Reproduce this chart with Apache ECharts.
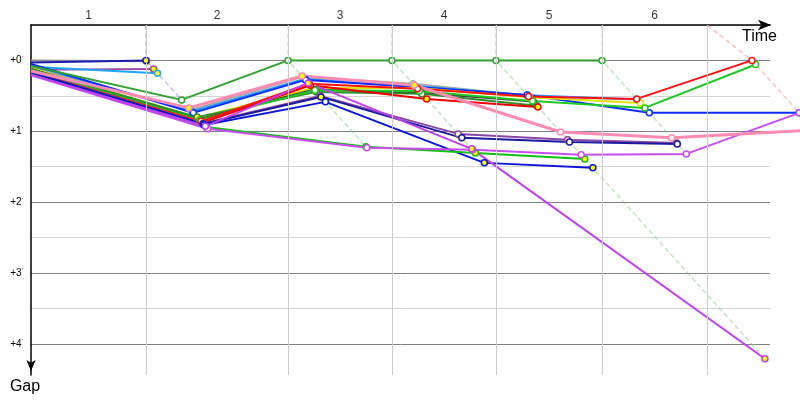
<!DOCTYPE html>
<html><head><meta charset="utf-8">
<script src="https://cdn.jsdelivr.net/npm/echarts@6/dist/echarts.min.js"></script>
<style>html,body{margin:0;padding:0;background:#fff}#c{width:800px;height:400px}</style>
</head><body><div id="c"></div>
<script>
// ---- data ----
const lapLabels   = ['1', '2', '3', '4', '5', '6'];
const lapGridTime = [108.0, 241.4, 339.0, 436.7, 536.3, 634.9]; // s, lap boundary grid lines
const leaderTime  = [108.0, 241.4, 339.0, 436.7, 536.3, 677.1]; // s, leader crossing time per lap
const gapTicks    = [0, 1, 2, 3, 4]; // minutes

// gaps in minutes: [start, lap1, lap2, ...]
const gapGray   = [0.00, 0.01];
const gapNavy   = [0.03, 0.00];
const gapMauve  = [0.13, 0.12];
const gapCyan   = [0.09, 0.18];
const gapSilver = [0.10, 0.70, 0.23, 0.33, 0.50];
const gapSky    = [0.07, 0.72, 0.26, 0.36, 0.49, 0.55];
const gapBlue   = [0.05, 0.74, 0.275, 0.375, 0.487, 0.74, 0.74];
const gapYellow = [0.11, 0.81, 0.39, 0.39, 0.52, 0.60];
const gapDark   = [0.12, 0.83, 0.41, 0.458, 0.58];
const gapForest = [0.12, 0.80, 0.444, 0.47, 0.64];
const gapLime   = [0.14, 0.84, 0.42, 0.43, 0.571, 0.67, 0.057];
const gapRed2   = [0.18, 0.88, 0.35, 0.543, 0.656];
const gapRed    = [0.16, 0.86, 0.33, 0.40, 0.51, 0.543, 0.00];
const gapPurple = [0.16, 0.89, 0.50, 1.037, 1.121, 1.164];
const gapNavy2  = [0.17, 0.896, 0.515, 1.093, 1.15, 1.178];
const gapBlue2  = [0.19, 0.91, 0.585, 1.446, 1.516];
const gapGreen2 = [0.20, 0.94, 1.22, 1.305, 1.39];
const gapOrchid = [0.21, 0.966, 1.234, 1.262, 1.333, 1.319, 0.74];
const gapViolet = [0.20, 0.93, 0.317, 1.248, 4.21];
const gapPink   = [0.15, 0.67, 0.22, 0.35, 1.01, 1.09, 0.98];
const gapGreen  = [0.08, 0.557, 0.00, 0.00, 0.00, 0.00];

// pit flags per lap (1 = yellow marker)
const pitGray   = [0];
const pitNavy   = [1];
const pitMauve  = [1];
const pitCyan   = [1];
const pitSilver = [0, 0, 0, 0];
const pitSky    = [0, 0, 0, 0, 0];
const pitBlue   = [0, 0, 0, 0, 0, 0];
const pitYellow = [0, 0, 0, 0, 0];
const pitDark   = [0, 0, 0, 0];
const pitForest = [1, 1, 0, 0];
const pitLime   = [0, 0, 0, 0, 0, 0];
const pitRed2   = [0, 0, 1, 1];
const pitRed    = [0, 0, 0, 0, 0, 0];
const pitPurple = [0, 0, 0, 0, 0];
const pitNavy2  = [1, 1, 0, 0, 0];
const pitBlue2  = [0, 0, 1, 1];
const pitGreen2 = [0, 1, 1, 1];
const pitOrchid = [0, 0, 0, 0, 0, 0];
const pitViolet = [0, 1, 1, 1];
const pitPink   = [1, 1, 1, 0, 0, 0];
const pitGreen  = [0, 0, 0, 0, 0];

// ---- styles ----
const cars = [
  [gapGray, pitGray, '#8c8c8c', 2],
  [gapNavy, pitNavy, '#1c1cb4', 2],
  [gapMauve, pitMauve, '#a04ca4', 2],
  [gapCyan, pitCyan, '#20a8f0', 2],
  [gapSilver, pitSilver, '#a8a8a8', 2],
  [gapSky, pitSky, '#1e96ff', 2],
  [gapBlue, pitBlue, '#0a2cff', 2],
  [gapYellow, pitYellow, '#e2e200', 2],
  [gapDark, pitDark, '#404040', 2],
  [gapForest, pitForest, '#2e8b2e', 2],
  [gapLime, pitLime, '#1ec81e', 2],
  [gapRed2, pitRed2, '#ee0000', 2],
  [gapRed, pitRed, '#ff1010', 2],
  [gapPurple, pitPurple, '#8a46a2', 2],
  [gapNavy2, pitNavy2, '#1a1aa0', 2],
  [gapBlue2, pitBlue2, '#0a14e0', 2],
  [gapGreen2, pitGreen2, '#10c010', 2],
  [gapOrchid, pitOrchid, '#c84cf2', 2],
  [gapViolet, pitViolet, '#c040f0', 2],
  [gapPink, pitPink, '#ff8cb0', 3],
  [gapGreen, pitGreen, '#30a030', 2]
];
const lapLineColors = ['rgba(150,150,235,0.6)', 'rgba(140,210,140,0.55)', 'rgba(140,210,140,0.55)',
                       'rgba(140,210,140,0.55)', 'rgba(140,210,140,0.55)', 'rgba(255,150,150,0.6)'];

const Y_MIN = -0.5, Y_MAX = 4.44;

function carPoints(gaps, pits) {
  return gaps.map((g, i) => {
    if (i === 0) return { value: [0, g], symbol: 'none' };
    return { value: [leaderTime[i - 1] + g * 60, g],
             itemStyle: { color: pits[i - 1] ? '#ffff00' : '#ffffff' } };
  });
}

const series = [];
// lap label holder + vertical grid lines
series.push({
  type: 'scatter', xAxisIndex: 0, yAxisIndex: 0, z: 1, clip: false, silent: true,
  symbolSize: 1, itemStyle: { color: 'rgba(0,0,0,0)' },
  data: lapLabels.map((l, i) => [((i ? lapGridTime[i - 1] : 0) + lapGridTime[i]) / 2, Y_MIN]),
  label: { show: true, position: 'top', distance: 3, color: '#000', fontSize: 12,
           fontFamily: 'Liberation Sans', formatter: p => lapLabels[p.dataIndex] },
  markLine: { silent: true, symbol: ['none', 'none'], label: { show: false },
              lineStyle: { color: '#cccccc', type: 'solid', width: 1 },
              data: lapGridTime.map(t => ({ xAxis: t })) }
});
// dashed lap lines
lapGridTime.forEach((t, i) => {
  let gmax = 0;
  cars.forEach(c => { const g = c[0][i + 1]; if (g != null && g > gmax) gmax = g; });
  series.push({
    type: 'line', xAxisIndex: 1, yAxisIndex: 1, z: 2, silent: true, symbol: 'none',
    lineStyle: { color: lapLineColors[i], width: 1.5, type: [5, 3] },
    data: [[t, Y_MIN], [leaderTime[i], 0], [leaderTime[i] + gmax * 60, gmax]]
  });
});
// cars
cars.forEach(c => {
  series.push({
    type: 'line', xAxisIndex: 1, yAxisIndex: 1, z: 3, silent: true,
    symbol: 'circle', symbolSize: 6, showAllSymbol: true,
    lineStyle: { color: c[2], width: c[3] },
    itemStyle: { borderColor: c[2], borderWidth: 1.5, color: '#fff' },
    data: carPoints(c[0], c[1])
  });
});

const chart = echarts.init(document.getElementById('c'), null, { renderer: 'canvas' });
chart.setOption({
  animation: false,
  backgroundColor: '#fff',
  grid: [
    { left: 31, right: 30, top: 25, bottom: 25 },
    { left: 31, right: 0, top: 25, bottom: 25 }
  ],
  xAxis: [
    { gridIndex: 0, type: 'value', position: 'top', min: 0, max: 694.0,
      axisLine: { show: true, onZero: false, lineStyle: { color: '#000', width: 1.5 },
                  symbol: ['none', 'arrow'], symbolSize: [8, 13], symbolOffset: [0, 1] },
      axisTick: { show: false }, axisLabel: { show: false }, splitLine: { show: false },
      name: 'Time', nameLocation: 'end', nameGap: 7,
      nameTextStyle: { align: 'right', verticalAlign: 'top', fontSize: 16, color: '#000',
                       fontFamily: 'Liberation Sans', padding: [4, 0, 0, 0] } },
    { gridIndex: 1, type: 'value', min: 0, max: 722.2, show: false }
  ],
  yAxis: [
    { gridIndex: 0, type: 'value', inverse: true, min: Y_MIN, max: Y_MAX, interval: 0.5,
      axisLine: { show: true, onZero: false, lineStyle: { color: '#000', width: 1.5 },
                  symbol: ['arrow', 'none'], symbolSize: [7, 11], symbolOffset: [4, 0] },
      axisTick: { show: false },
      axisLabel: { margin: 8, formatter: v => {
          const r = Math.round(v);
          return (Math.abs(v - r) < 1e-6 && gapTicks.includes(r)) ? '{a|+' + r + '}{p|\'}' : '';
        },
        rich: { a: { fontSize: 10, color: '#000', fontFamily: 'Liberation Sans' },
                p: { fontSize: 7, color: '#a05020', verticalAlign: 'top', fontFamily: 'Liberation Sans' } } },
      splitLine: { show: true, showMaxLine: false, lineStyle: { color: ['#d4d4d4', '#808080'], width: 1 } },
      name: 'Gap', nameLocation: 'end', nameGap: 4,
      nameTextStyle: { align: 'center', verticalAlign: 'top', fontSize: 16, color: '#000',
                       fontFamily: 'Liberation Sans', padding: [0, 12, 0, 0] } },
    { gridIndex: 1, type: 'value', inverse: true, min: Y_MIN, max: Y_MAX, show: false }
  ],
  series: series
});
</script></body></html>
